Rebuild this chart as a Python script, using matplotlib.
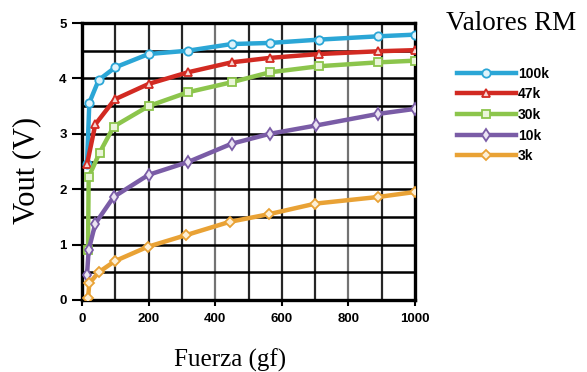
import matplotlib
matplotlib.use("Agg")
import matplotlib.pyplot as plt
from matplotlib.lines import Line2D

# Sensor output voltage vs. applied force for several RM load resistors
labels = ["100k", "47k", "30k", "10k", "3k"]

x_100k = [15, 22, 50, 100, 200, 318, 449, 564, 712, 890, 1000]
y_100k = [2.45, 3.56, 3.97, 4.20, 4.44, 4.50, 4.62, 4.64, 4.70, 4.76, 4.79]

x_47k = [15, 40, 98, 200, 318, 449, 564, 712, 890, 1000]
y_47k = [2.45, 3.17, 3.62, 3.90, 4.11, 4.29, 4.37, 4.44, 4.49, 4.51]

x_30k = [18, 20, 53, 95, 200, 318, 449, 564, 712, 890, 1000]
y_30k = [0.90, 2.22, 2.66, 3.13, 3.50, 3.75, 3.93, 4.11, 4.22, 4.29, 4.32]

x_10k = [15, 20, 40, 95, 200, 318, 449, 564, 703, 890, 1000]
y_10k = [0.45, 0.90, 1.38, 1.86, 2.26, 2.49, 2.82, 3.00, 3.15, 3.36, 3.45]

x_3k = [18, 22, 50, 98, 197, 312, 443, 562, 701, 890, 1000]
y_3k = [0.03, 0.30, 0.50, 0.70, 0.96, 1.17, 1.41, 1.55, 1.74, 1.86, 1.95]

xs = [x_100k, x_47k, x_30k, x_10k, x_3k]
ys = [y_100k, y_47k, y_30k, y_10k, y_3k]
colors = ["#2ba6d6", "#d22a22", "#8cc54c", "#7a5ca6", "#e9a235"]
faces = ["#dff3fb", "#f6d6d3", "#eaf5d9", "#ebe4f3", "#fcefd6"]
markers = ["o", "^", "s", "d", "D"]
msizes = [6, 6, 5.5, 6, 5]

x_ticks = [0, 200, 400, 600, 800, 1000]
y_ticks = [0, 1, 2, 3, 4, 5]

fig = plt.figure(figsize=(5.87, 3.72), dpi=100, facecolor="white")
ax = fig.add_axes([82 / 587, 72 / 372, 333 / 587, 277 / 372])

# grid every 100 gf and every 0.5 V
for gx in range(100, 1000, 100):
    ax.axvline(gx, color="black", lw=1.6, alpha=0.85 if gx % 400 else 0.55, zorder=1)
for gy in [0.5, 1, 1.5, 2, 2.5, 3, 3.5, 4, 4.5]:
    ax.axhline(gy, color="black", lw=1.8, zorder=1)

handles = []
for x, y, c, f, m, s, lab in zip(xs, ys, colors, faces, markers, msizes, labels):
    ax.plot(x, y, color=c, lw=3.2, marker=m, ms=s, mfc=f, mec=c, mew=1.3,
            zorder=3, solid_capstyle="round")
    handles.append(Line2D([], [], color=c, lw=3.2, marker=m, ms=s, mfc=f,
                          mec=c, mew=1.3, label=lab))

ax.set_xlim(0, 1000)
ax.set_ylim(0, 5)
ax.set_xticks(x_ticks)
ax.set_yticks(y_ticks)
ax.set_xticklabels([str(t) for t in x_ticks])
ax.set_yticklabels([str(t) for t in y_ticks])
for sp in ax.spines.values():
    sp.set_linewidth(2.4)
    sp.set_color("black")
ax.tick_params(axis="y", direction="out", length=7, width=1.5, pad=4,
               labelsize=9.5)
ax.tick_params(axis="x", direction="out", length=4, width=1.5, pad=5,
               labelsize=9.5)
for t in ax.get_xticklabels() + ax.get_yticklabels():
    t.set_fontfamily("Liberation Sans")
    t.set_fontweight("bold")

ax.set_xlabel("Fuerza (gf)", fontfamily="Liberation Serif", fontsize=18)
ax.xaxis.set_label_coords((230 - 82) / 333, -(360 - 300) / 277)
ax.xaxis.label.set_verticalalignment("center")
ax.set_ylabel("Vout (V)", fontfamily="Liberation Serif", fontsize=22)
ax.yaxis.set_label_coords(-(82 - 27) / 333, (300 - 170) / 277)
ax.yaxis.label.set_verticalalignment("center")

fig.text(0.871, 0.938, "Valores RM", fontfamily="Liberation Serif",
         fontsize=19.5, ha="center", va="center")

leg = fig.legend(handles=handles, loc="upper left",
                 bbox_to_anchor=(451 / 587, 1 - 61 / 372), frameon=False,
                 handlelength=4.3, handletextpad=0.1, labelspacing=0.48,
                 numpoints=1, borderaxespad=0,
                 prop={"family": "Liberation Sans", "weight": "bold",
                       "size": 10})

fig.savefig("out.png", dpi=100, facecolor="white")
